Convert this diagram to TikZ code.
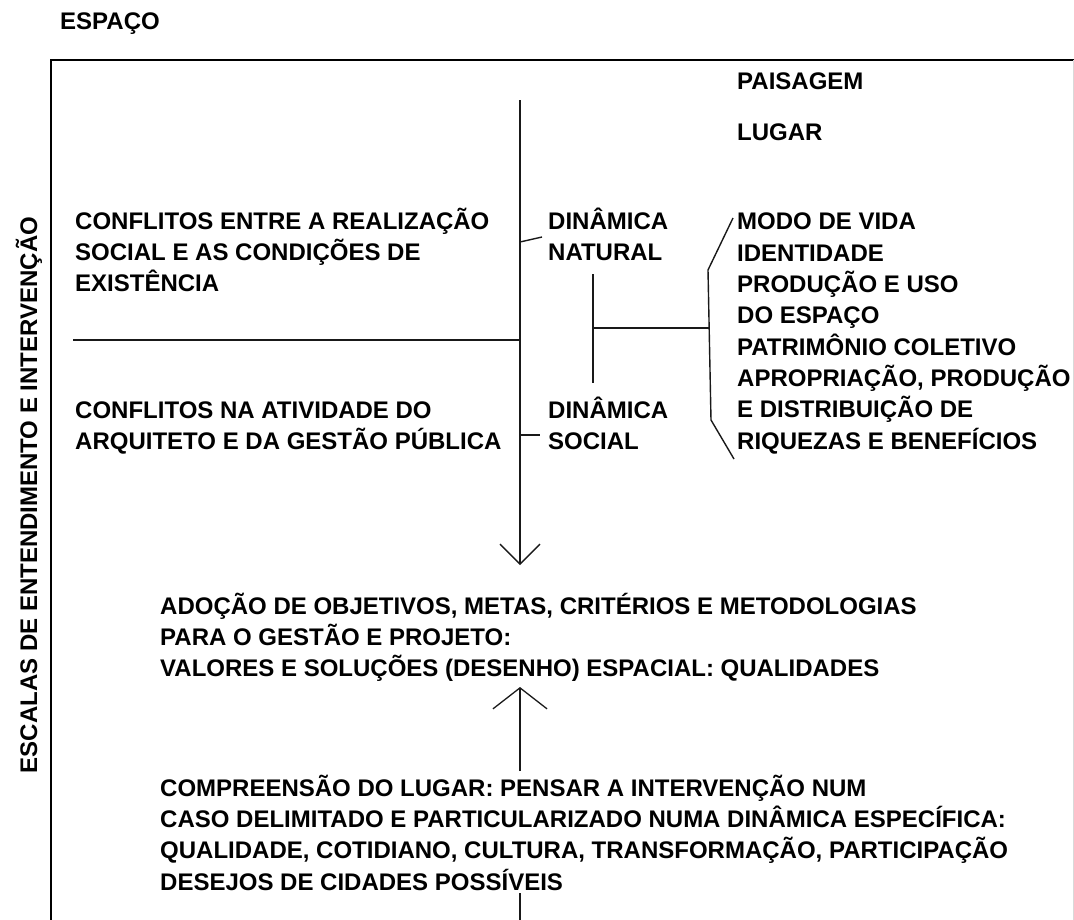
\documentclass[tikz,border=0pt]{standalone}
\usepackage{fontspec}
\setmainfont{Liberation Sans}
\usetikzlibrary{arrows.meta}
\tikzset{
  txt/.style={font=\bfseries\fontsize{24}{31.3}\selectfont, text=black, align=left, inner sep=0pt, anchor=base west},
  ln/.style={line width=1.4pt, draw=black!90},
  vbarb/.style={-{Straight Barb[length=20pt,width=40pt,line width=1.3pt]}},
  ubarb/.style={-{Straight Barb[length=21pt,width=54pt,line width=1.3pt]}}
}
\begin{document}
\begin{tikzpicture}[x=1pt,y=-1pt]
\useasboundingbox (0,0) rectangle (1074,919);
% frame
\coordinate (fbl) at (51,925);
\coordinate (ftl) at (51,60);
\coordinate (ftr) at (1074,60);
\coordinate (fr1) at (1073,60);
\coordinate (fr2) at (1073,925);
\draw[line width=1.8pt] (fbl) -- (ftl) -- (ftr);
\draw[line width=0.8pt, draw=black!15] (fr1) -- (fr2);
% texts (anchor = baseline of the LAST line)
\node[txt] (esp) at (60,29) {ESPAÇO};
\node[txt] (pais) at (737,89) {PAISAGEM};
\node[txt] (lug) at (737,140) {LUGAR};
\node[txt] (c1) at (75,291.6) {CONFLITOS ENTRE A REALIZAÇÃO\\SOCIAL E AS CONDIÇÕES DE\\EXISTÊNCIA};
\node[txt] (dn) at (548,260.3) {DINÂMICA\\NATURAL};
\node[txt] (list) at (737,449) {MODO DE VIDA\\IDENTIDADE\\PRODUÇÃO E USO\\DO ESPAÇO\\PATRIMÔNIO COLETIVO\\APROPRIAÇÃO, PRODUÇÃO\\E DISTRIBUIÇÃO DE\\RIQUEZAS E BENEFÍCIOS};
\node[txt] (c2) at (75,449.3) {CONFLITOS NA ATIVIDADE DO\\ARQUITETO E DA GESTÃO PÚBLICA};
\node[txt] (ds) at (548,449.3) {DINÂMICA\\SOCIAL};
\node[txt] (ado) at (160,676.6) {ADOÇÃO DE OBJETIVOS, METAS, CRITÉRIOS E METODOLOGIAS\\PARA O GESTÃO E PROJETO:\\VALORES E SOLUÇÕES (DESENHO) ESPACIAL: QUALIDADES};
\node[txt] (comp) at (160,890) {COMPREENSÃO DO LUGAR: PENSAR A INTERVENÇÃO NUM\\CASO DELIMITADO E PARTICULARIZADO NUMA DINÂMICA ESPECÍFICA:\\QUALIDADE, COTIDIANO, CULTURA, TRANSFORMAÇÃO, PARTICIPAÇÃO\\DESEJOS DE CIDADES POSSÍVEIS};
\node[txt, anchor=base, rotate=90] (esc) at (37,495) {ESCALAS DE ENTENDIMENTO E INTERVENÇÃO};
% coordinates for connectors
\coordinate (vtop) at (520,100);
\coordinate (vtip) at (520,565);
\coordinate (hl) at (73,340);
\coordinate (hm) at (520,340);
\coordinate (t1a) at (520,242);
\coordinate (t1b) at (542,237);
\coordinate (t2a) at (520,435);
\coordinate (t2b) at (540,435);
\coordinate (cv1) at (593,274);
\coordinate (cv2) at (593,383);
\coordinate (cm) at (593,328);
\coordinate (br0) at (710,328);
\coordinate (b1) at (733,218);
\coordinate (b2) at (708,270);
\coordinate (b3) at (711,420);
\coordinate (b4) at (734,459);
\coordinate (ua) at (520,771);
\coordinate (ub) at (520,687);
\coordinate (bt1) at (520,893);
\coordinate (bt2) at (520,925);
% connectors
\draw[ln, vbarb] (vtop) -- (vtip);
\draw[ln] (hl) -- (hm);
\draw[ln] (t1a) -- (t1b);
\draw[ln] (t2a) -- (t2b);
\draw[ln] (cv1) -- (cv2);
\draw[ln] (cm) -- (br0);
\draw[ln] (b1) -- (b2) -- (b3) -- (b4);
\draw[ln, ubarb] (ua) -- (ub);
\draw[ln] (bt1) -- (bt2);
\end{tikzpicture}
\end{document}
